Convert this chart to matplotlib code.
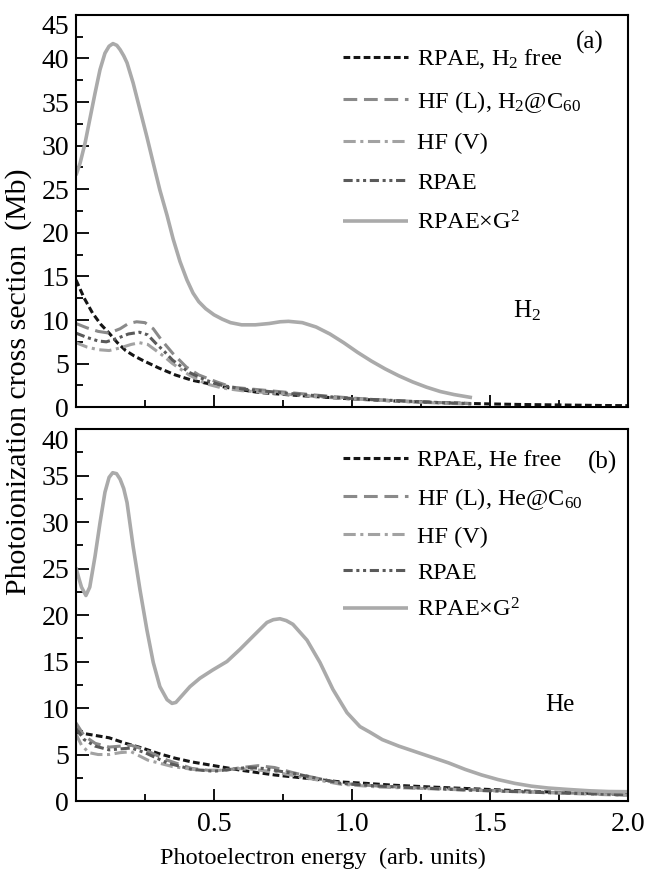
import numpy as np
import matplotlib
matplotlib.use('Agg')
from matplotlib import pyplot as plt
from matplotlib import transforms
from matplotlib.ticker import MultipleLocator, FixedLocator

plt.rcParams['font.family'] = ['Liberation Serif', 'DejaVu Serif']
plt.rcParams['mathtext.fontset'] = 'custom'
plt.rcParams['mathtext.rm'] = 'Liberation Serif'
plt.rcParams['mathtext.it'] = 'Liberation Serif:italic'

# ---- panel (a): H2 ----
a_free_x = [0, 0.03, 0.06, 0.09, 0.12, 0.15, 0.18, 0.21, 0.24, 0.30, 0.36, 0.42, 0.48, 0.54, 0.60,
            0.66, 0.72, 0.78, 0.9, 1.0, 1.1, 1.2, 1.3, 1.4, 1.5, 1.6, 1.7, 1.8, 1.9, 2.0]
a_free_y = [14.6, 12.5, 10.8, 9.5, 8.5, 7.4, 6.5, 5.9, 5.4, 4.5, 3.7, 3.1, 2.7, 2.3, 2.0,
            1.7, 1.55, 1.4, 1.15, 0.95, 0.8, 0.65, 0.55, 0.45, 0.38, 0.32, 0.28, 0.24, 0.2, 0.18]

a_hfl_x = [0, 0.04, 0.08, 0.12, 0.16, 0.19, 0.22, 0.25, 0.28, 0.31, 0.35, 0.40, 0.445, 0.51, 0.565,
           0.63, 0.7, 0.8, 0.9, 1.0, 1.1, 1.2, 1.3, 1.44]
a_hfl_y = [9.6, 9.1, 8.7, 8.5, 9.0, 9.6, 9.8, 9.7, 9.0, 7.7, 6.2, 4.6, 3.7, 2.9, 2.3,
           2.1, 1.9, 1.6, 1.3, 1.05, 0.85, 0.7, 0.55, 0.4]

a_hfv_x = [0, 0.04, 0.08, 0.12, 0.16, 0.20, 0.23, 0.26, 0.29, 0.32, 0.35, 0.41, 0.47, 0.53, 0.6,
           0.7, 0.8, 0.9, 1.0, 1.1, 1.2, 1.3, 1.44]
a_hfv_y = [7.4, 6.9, 6.6, 6.5, 6.8, 7.2, 7.4, 7.2, 6.5, 5.8, 5.0, 3.7, 2.7, 2.2, 1.9,
           1.65, 1.4, 1.15, 0.95, 0.8, 0.65, 0.5, 0.35]

a_rpae_x = [0, 0.04, 0.08, 0.11, 0.15, 0.19, 0.23, 0.26, 0.29, 0.32, 0.35, 0.41, 0.47, 0.53, 0.6,
            0.7, 0.8, 0.9, 1.0, 1.1, 1.2, 1.3, 1.44]
a_rpae_y = [8.5, 8.0, 7.6, 7.5, 7.9, 8.4, 8.6, 8.3, 7.3, 6.4, 5.4, 4.0, 3.1, 2.5, 2.1,
            1.8, 1.5, 1.25, 1.0, 0.85, 0.7, 0.55, 0.4]

a_g2_x = [0, 0.015, 0.033, 0.05, 0.069, 0.087, 0.105, 0.12, 0.134, 0.148, 0.16, 0.173, 0.185,
          0.207, 0.232, 0.257, 0.28, 0.304, 0.33, 0.352, 0.377, 0.402, 0.424, 0.445, 0.47,
          0.50, 0.53, 0.56, 0.60, 0.65, 0.70, 0.74, 0.77, 0.82, 0.87, 0.92, 0.97, 1.02,
          1.07, 1.12, 1.17, 1.22, 1.27, 1.32, 1.37, 1.435]
a_g2_y = [26.6, 28.0, 30.3, 33.0, 36.0, 38.7, 40.6, 41.4, 41.7, 41.5, 41.0, 40.3, 39.5,
          37.2, 34.1, 31.0, 28.0, 24.9, 22.0, 19.3, 16.7, 14.6, 13.1, 12.1, 11.3,
          10.6, 10.1, 9.7, 9.45, 9.45, 9.6, 9.8, 9.85, 9.7, 9.2, 8.4, 7.4, 6.3,
          5.3, 4.4, 3.6, 2.9, 2.3, 1.8, 1.45, 1.1]

# ---- panel (b): He ----
b_free_x = [0, 0.06, 0.12, 0.18, 0.24, 0.30, 0.36, 0.42, 0.48, 0.54, 0.60, 0.66, 0.72, 0.80, 0.88,
            0.96, 1.05, 1.15, 1.29, 1.41, 1.53, 1.65, 1.77, 1.88, 2.0]
b_free_y = [7.4, 7.1, 6.8, 6.2, 5.7, 5.1, 4.6, 4.2, 3.9, 3.6, 3.3, 3.05, 2.8, 2.55, 2.3,
            2.05, 1.9, 1.7, 1.5, 1.35, 1.2, 1.05, 0.9, 0.82, 0.75]

b_hfl_x = [0, 0.03, 0.07, 0.12, 0.16, 0.20, 0.25, 0.33, 0.42, 0.48, 0.54, 0.60, 0.66, 0.72, 0.78,
           0.85, 0.96, 1.1, 1.25, 1.4, 1.55, 1.7, 1.85, 2.0]
b_hfl_y = [8.4, 7.0, 6.2, 5.8, 5.9, 6.0, 5.5, 4.4, 3.5, 3.3, 3.3, 3.6, 3.8, 3.6, 3.1,
           2.6, 1.9, 1.6, 1.4, 1.25, 1.1, 0.95, 0.8, 0.65]

b_hfv_x = [0, 0.02, 0.047, 0.08, 0.12, 0.16, 0.20, 0.26, 0.35, 0.45, 0.52, 0.58, 0.64, 0.70, 0.76,
           0.85, 0.96, 1.1, 1.25, 1.4, 1.55, 1.7, 1.85, 2.0]
b_hfv_y = [7.2, 6.0, 5.2, 5.0, 5.0, 5.2, 5.3, 4.4, 3.7, 3.3, 3.3, 3.5, 3.4, 3.2, 2.9,
           2.4, 1.8, 1.5, 1.35, 1.2, 1.05, 0.9, 0.75, 0.6]

b_rpae_x = [0, 0.03, 0.07, 0.12, 0.16, 0.20, 0.25, 0.33, 0.42, 0.50, 0.56, 0.62, 0.68, 0.74, 0.80,
            0.88, 0.96, 1.1, 1.25, 1.4, 1.55, 1.7, 1.85, 2.0]
b_rpae_y = [7.8, 6.6, 5.9, 5.5, 5.6, 5.7, 5.2, 4.1, 3.4, 3.2, 3.4, 3.6, 3.5, 3.2, 2.9,
            2.4, 1.9, 1.6, 1.4, 1.2, 1.05, 0.9, 0.8, 0.65]

b_g2_x = [0, 0.01, 0.02, 0.036, 0.05, 0.069, 0.087, 0.105, 0.12, 0.133, 0.147, 0.16, 0.173,
          0.185, 0.207, 0.232, 0.257, 0.28, 0.304, 0.33, 0.348, 0.362, 0.377, 0.395, 0.413,
          0.449, 0.496, 0.547, 0.594, 0.641, 0.692, 0.715, 0.739, 0.762, 0.786, 0.837,
          0.884, 0.931, 0.982, 1.029, 1.065, 1.11, 1.17, 1.23, 1.29, 1.35, 1.41, 1.47,
          1.53, 1.59, 1.65, 1.71, 1.78, 1.86, 1.93, 2.0]
b_g2_y = [25.1, 24.0, 23.0, 22.1, 23.0, 26.3, 29.9, 33.2, 34.8, 35.3, 35.2, 34.6, 33.6,
          32.1, 27.4, 22.7, 18.4, 14.9, 12.3, 10.9, 10.5, 10.6, 11.1, 11.7, 12.3,
          13.2, 14.1, 15.0, 16.3, 17.7, 19.2, 19.5, 19.6, 19.4, 19.0, 17.3,
          14.9, 12.0, 9.5, 8.0, 7.4, 6.6, 5.9, 5.3, 4.7, 4.1, 3.4, 2.8,
          2.3, 1.9, 1.6, 1.4, 1.25, 1.1, 1.02, 1.0]

styles = [
    dict(color='#151515', ls=(0, (2.2, 1.1)), lw=2.2),          # RPAE free
    dict(color='#8a8a8a', ls=(0, (4.5, 2.2)), lw=2.2),          # HF (L)
    dict(color='#a2a2a2', ls=(0, (4, 1.5, 1, 1.5)), lw=2.2),    # HF (V)
    dict(color='#5a5a5a', ls=(0, (3, 1.2, 1, 1.2, 1, 1.2)), lw=2.2),  # RPAE
    dict(color='#aaaaaa', ls='-', lw=2.6),                      # RPAE x G^2
]

fig = plt.figure(figsize=(6.46, 8.72), dpi=100)
ax_a = fig.add_axes([0.1176, 0.533, 0.8545, 0.450])
ax_b = fig.add_axes([0.1176, 0.0814, 0.8545, 0.4266])

# per panel: axes, y max, curves, legend labels, tag, atom label, legend top, label spacing, atom position
panels = [
    (ax_a, 45, [(a_free_x, a_free_y), (a_hfl_x, a_hfl_y), (a_hfv_x, a_hfv_y),
                (a_rpae_x, a_rpae_y), (a_g2_x, a_g2_y)],
     ['RPAE, H$_2$ free', 'HF (L), H$_2$@C$_{60}$', 'HF (V)', 'RPAE', 'RPAE×G$^2$'],
     '(a)', 'H$_2$', 0.917, 0.72, (0.817, 0.247), (0.955, 0.929)),
    (ax_b, 40, [(b_free_x, b_free_y), (b_hfl_x, b_hfl_y), (b_hfv_x, b_hfv_y),
                (b_rpae_x, b_rpae_y), (b_g2_x, b_g2_y)],
     ['RPAE, He free', 'HF (L), He@C$_{60}$', 'HF (V)', 'RPAE', 'RPAE×G$^2$'],
     '(b)', 'He', 0.945, 0.58, (0.877, 0.258), (0.98, 0.909)),
]

# nudge the topmost y label down so it clears the panel above
shift_down = transforms.ScaledTranslation(0, -10 / 100, fig.dpi_scale_trans)

for ax, ymax, series, labels, tag, atom, leg_top, leg_sp, atom_xy, tag_xy in panels:
    handles = []
    for (xs, ys), st, lab in zip(series, styles, labels):
        h, = ax.plot(xs, ys, label=lab, solid_capstyle='butt', dash_capstyle='butt', **st)
        handles.append(h)
    ax.set_xlim(0, 2.0)
    ax.set_ylim(0, ymax)
    ax.xaxis.set_major_locator(FixedLocator([0.5, 1.0, 1.5, 2.0]))
    ax.xaxis.set_minor_locator(FixedLocator([0.25, 0.75, 1.25, 1.75]))
    ax.yaxis.set_major_locator(MultipleLocator(5))
    ax.yaxis.set_minor_locator(MultipleLocator(2.5))
    ax.tick_params(which='both', direction='in', top=False, right=False, width=1.3)
    ax.tick_params(which='major', length=9, labelsize=20, pad=5)
    ax.tick_params(axis='x', which='major', pad=8)
    ax.tick_params(which='minor', length=5)
    for sp in ax.spines.values():
        sp.set_linewidth(1.5)
    top_tick = [t for t, v in zip(ax.yaxis.get_major_ticks(), ax.get_yticks()) if v == ymax]
    for t in top_tick:
        t.label1.set_transform(t.label1.get_transform() + shift_down)
    ax.legend(handles=handles, loc='upper left', bbox_to_anchor=(0.483, leg_top),
              frameon=False, fontsize=17.5, handlelength=2.68, handletextpad=0.4,
              labelspacing=leg_sp, borderpad=0, borderaxespad=0)
    ax.text(tag_xy[0], tag_xy[1], tag, transform=ax.transAxes, ha='right', va='center',
            fontsize=18)
    ax.text(atom_xy[0], atom_xy[1], atom, transform=ax.transAxes,
            ha='center', va='center', fontsize=18)

ax_a.tick_params(axis='x', labelbottom=False)
fig.text(0.5, 0.016, 'Photoelectron energy  (arb. units)', ha='center', va='center', fontsize=17.5)
fig.text(0.028, 0.562, 'Photoionization cross section  (Mb)', rotation=90,
         ha='center', va='center', fontsize=21.5)

fig.savefig('out.png', dpi=100)
